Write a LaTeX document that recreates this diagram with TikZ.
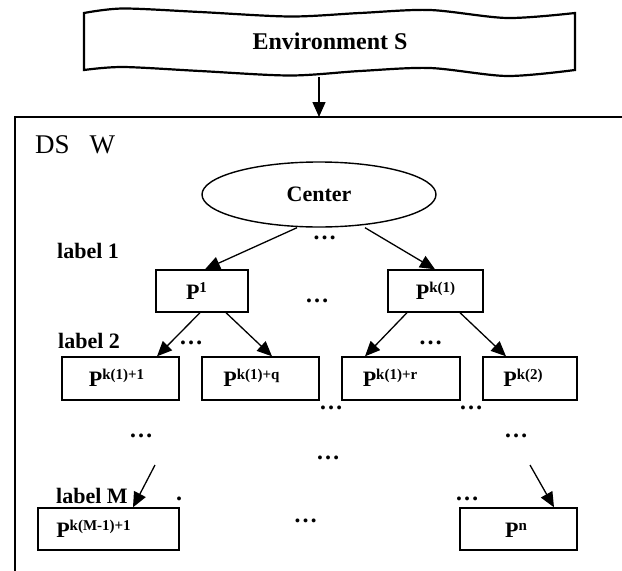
\documentclass[tikz,border=0pt]{standalone}
\usepackage{fontspec}
\setmainfont{Liberation Serif}
\usetikzlibrary{shapes.geometric,arrows.meta,calc}
\newcommand{\fs}[1]{\fontsize{#1}{#1}\selectfont}
\newcommand{\PX}[2]{{\fs{22}\bfseries P}{\fs{15}\bfseries\raisebox{7pt}{#1}}\hspace*{#2}}
\begin{document}
\begin{tikzpicture}[x=1pt,y=-1pt,
  box/.style={draw,line width=1.4pt,rectangle,inner sep=0pt,minimum height=42pt,text height=20pt,text depth=4pt},
  conn/.style={line width=1.3pt,-{Triangle[length=15pt,width=13pt]}},
  lbl/.style={font=\fs{22}\bfseries,inner sep=0pt,anchor=base west},
  dots/.style={font=\fs{24}\bfseries,inner sep=0pt,anchor=base},
]
\useasboundingbox (0,0) rectangle (622,571);
% banner
\draw[line width=2.2pt,line join=miter]
  plot[smooth] coordinates {(84,13) (123,8.5) (200,12) (290,16.5) (360,13) (430,10) (507,18) (575,13)}
  -- (575,70)
  -- plot[smooth] coordinates {(575,70) (507,76) (430,68) (360,71) (290,75.5) (200,71) (123,67) (84,70)}
  -- cycle;
\node[font=\fs{24}\bfseries,inner sep=0pt] (env) at (330,41) {Environment S};
\coordinate (envb) at (319,77);
\coordinate (frtop) at (319,117);
\draw[conn] (envb) -- (frtop);
% frame
\draw[line width=2pt] (622,117) -- (15,117) -- (15,571);
\node[font=\fs{27},inner sep=0pt,anchor=base west] (dsw) at (35,153) {DS\hspace{20pt}W};
% center
\node[draw,ellipse,line width=1.4pt,minimum width=234pt,minimum height=65pt,inner sep=0pt,font=\fs{22}\bfseries] (ctr) at (319,194.5) {Center};
% labels
\node[lbl] (l1) at (57,258) {label 1};
\node[lbl] (l2) at (58,348) {label 2};
\node[lbl] (lm) at (56,503) {label M};
% boxes
\node[box,minimum width=92pt] (p1) at (202,291) {\PX{1}{11pt}};
\node[box,minimum width=95pt] (pk1) at (435.5,291) {\PX{k(1)}{0pt}};
\node[box,minimum width=117pt,minimum height=43pt] (a) at (120.5,378.5) {\PX{k(1)+1}{8pt}};
\node[box,minimum width=117pt,minimum height=43pt] (b) at (260.5,378.5) {\PX{k(1)+q}{18pt}};
\node[box,minimum width=118pt,minimum height=43pt] (c) at (401,378.5) {\PX{k(1)+r}{22pt}};
\node[box,minimum width=94pt,minimum height=43pt] (d) at (530,378.5) {\PX{k(2)}{14pt}};
\node[box,minimum width=141pt] (m1) at (108.5,529) {\PX{k(M-1)+1}{30pt}};
\node[box,minimum width=117pt] (pn) at (518.5,529) {\PX{n}{5pt}};
% connectors
\draw[conn] ($(ctr.south)+(-22,0)$) -- ($(p1.north)+(3,0)$);
\draw[conn] ($(ctr.south)+(46,0)$) -- ($(pk1.north)+(-0.5,0)$);
\draw[conn] ($(p1.south)+(-2,0)$) -- ($(a.north)+(36.5,0)$);
\draw[conn] ($(p1.south)+(24,0)$) -- ($(b.north)+(11.5,0)$);
\draw[conn] ($(pk1.south)+(-28.5,0)$) -- ($(c.north)+(-36,0)$);
\draw[conn] ($(pk1.south)+(24.5,0)$) -- ($(d.north)+(-24,0)$);
\coordinate (mfrom) at (155,465);
\coordinate (nfrom) at (530,465);
\draw[conn] (mfrom) -- ($(m1.north)+(24.5,0)$);
\draw[conn] (nfrom) -- ($(pn.north)+(35.5,0)$);
% dots
\node[dots] (d1) at (324.5,239.5) {…};
\node[dots] (d2) at (317,302.5) {…};
\node[dots] (d3) at (191,344.5) {…};
\node[dots] (d4) at (430.5,344.5) {…};
\node[dots] (d5) at (331,409.5) {…};
\node[dots] (d6) at (471,409.5) {…};
\node[dots] (d7) at (141,437.5) {…};
\node[dots] (d8) at (516,437.5) {…};
\node[dots] (d9) at (328,459.5) {…};
\node[dots] (d10) at (179,500.5) {.};
\node[dots] (d11) at (467,500.5) {…};
\node[dots] (d12) at (305.5,522.5) {…};
\end{tikzpicture}
\end{document}
